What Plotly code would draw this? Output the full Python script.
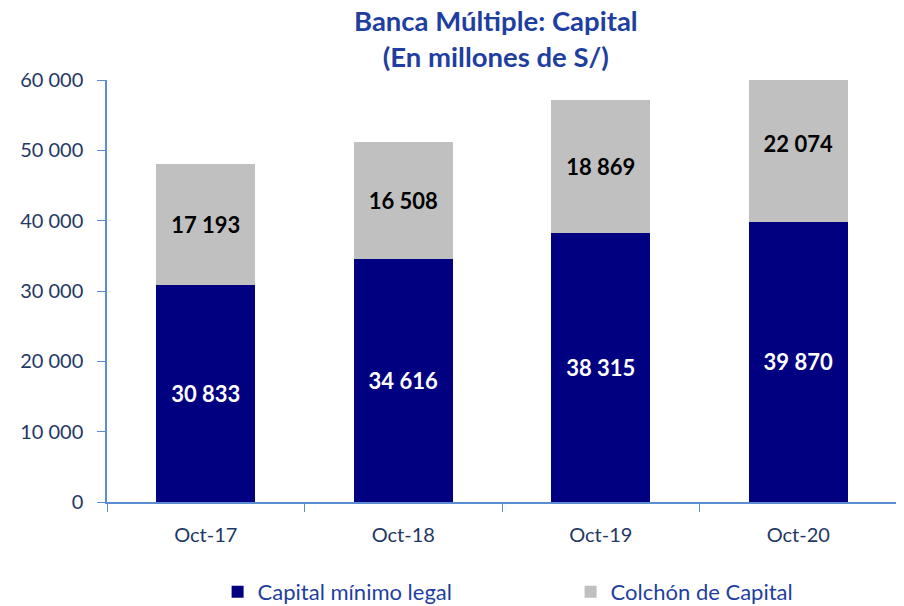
import plotly.graph_objects as go

categories = ["Oct-17", "Oct-18", "Oct-19", "Oct-20"]
capital_minimo = [30833, 34616, 38315, 39870]
colchon = [17193, 16508, 18869, 22074]
y_ticks = [0, 10000, 20000, 30000, 40000, 50000, 60000]
y_tick_labels = ["0", "10 000", "20 000", "30 000", "40 000", "50 000", "60 000"]

def fmt(v):
    return f"{v:,}".replace(",", " ")

FONT = "Lato"
AXIS_COLOR = "#5b8bd0"
TICK_COLOR = "#1f3864"

fig = go.Figure()
fig.add_trace(go.Bar(
    x=categories, y=capital_minimo, name="Capital mínimo legal",
    marker=dict(color="#000080", line=dict(width=0)),
    text=[fmt(v) for v in capital_minimo], textposition="inside",
    insidetextanchor="middle",
    textfont=dict(color="white", size=22, family=FONT, weight="bold"),
))
fig.add_trace(go.Bar(
    x=categories, y=colchon, name="Colchón de Capital",
    marker=dict(color="#c0c0c0", line=dict(width=0)),
    text=[fmt(v) for v in colchon], textposition="inside",
    insidetextanchor="middle",
    textfont=dict(color="black", size=22, family=FONT, weight="bold"),
))

# page body has an 8px margin, so the figure is sized/offset to compensate
fig.update_layout(
    barmode="stack",
    bargap=0.5,
    width=896, height=598,
    margin=dict(l=99, r=7, t=72, b=104, autoexpand=False),
    paper_bgcolor="white", plot_bgcolor="white",
    font=dict(family=FONT, color=TICK_COLOR),
    uniformtext=dict(mode=False),
    legend=dict(
        orientation="h", x=0.14, xanchor="left", y=-0.213, yanchor="middle",
        font=dict(family=FONT, size=22, color="#1f3fa0"),
        entrywidth=308, entrywidthmode="pixels",
        itemclick=False, traceorder="normal",
    ),
    showlegend=True,
)
fig.add_annotation(
    text="<b>Banca Múltiple: Capital</b><br><b>(En millones de S/)</b>",
    xref="paper", yref="paper",
    x=(496 - 107) / 790, y=1 + (72 - 30.5) / 422,
    xanchor="center", yanchor="middle", showarrow=False,
    font=dict(family=FONT, size=27.5, color="#1f3fa0"),
)
fig.update_xaxes(
    showline=True, linecolor=AXIS_COLOR, linewidth=1.5,
    ticks="outside", tickson="boundaries", ticklen=8, tickcolor=AXIS_COLOR,
    tickfont=dict(family=FONT, size=20, color=TICK_COLOR),
    ticklabelstandoff=14,
    showgrid=False,
)
fig.update_yaxes(
    range=[0, 60000], tickvals=y_ticks, ticktext=y_tick_labels,
    showline=True, linecolor=AXIS_COLOR, linewidth=1.5,
    ticks="outside", ticklen=8, tickcolor=AXIS_COLOR,
    tickfont=dict(family=FONT, size=20, color=TICK_COLOR),
    ticklabelstandoff=10,
    showgrid=False, zeroline=False,
)

fig.write_html("out.html")
